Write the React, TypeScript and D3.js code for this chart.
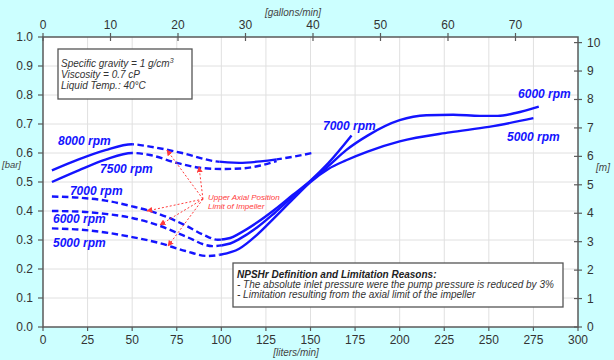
import React from "react";
import * as d3 from "d3";

// ---- data (x in liters/min, y in bar) ----
const curve8000X = [5, 20, 35, 50, 60, 78, 97, 110, 122, 131, 141, 151];
const curve8000Y = [0.54, 0.578, 0.61, 0.63, 0.622, 0.6, 0.571, 0.566, 0.571, 0.578, 0.588, 0.6];
const curve8000Dashed = [[50, 99], [131, 160]];

const curve7500X = [5, 20, 35, 50, 60, 75, 88, 100, 112, 122, 131];
const curve7500Y = [0.5, 0.54, 0.577, 0.6, 0.593, 0.566, 0.549, 0.545, 0.547, 0.557, 0.572];
const curve7500Dashed = [[50, 140]];

const curve7000X = [5, 20, 35, 50, 60, 70, 80, 90, 98, 105, 110, 120, 130, 140, 150, 160, 173];
const curve7000Y = [0.45, 0.446, 0.436, 0.416, 0.4, 0.378, 0.35, 0.318, 0.301, 0.307, 0.322, 0.36, 0.405, 0.455, 0.505, 0.565, 0.66];
const curve7000Dashed = [[0, 100]];

const curve6000X = [5, 20, 35, 50, 65, 80, 95, 105, 110, 120, 130, 140, 150, 160, 170, 182, 200, 215, 230, 245, 255, 265, 278];
const curve6000Y = [0.4, 0.398, 0.39, 0.376, 0.35, 0.312, 0.279, 0.288, 0.303, 0.343, 0.394, 0.449, 0.503, 0.555, 0.61, 0.66, 0.713, 0.73, 0.732, 0.728, 0.728, 0.738, 0.76];
const curve6000Dashed = [[0, 100]];

const curve5000X = [5, 20, 35, 50, 65, 80, 92, 100, 110, 120, 130, 140, 150, 160, 170, 182, 200, 228, 250, 275];
const curve5000Y = [0.34, 0.336, 0.326, 0.31, 0.29, 0.262, 0.245, 0.25, 0.27, 0.318, 0.378, 0.44, 0.5, 0.545, 0.575, 0.605, 0.64, 0.671, 0.69, 0.72];
const curve5000Dashed = [[0, 99]];

const speedLabels = ["8000 rpm", "7500 rpm", "7000 rpm", "6000 rpm", "5000 rpm", "7000 rpm", "6000 rpm", "5000 rpm"];
const speedLabelX = [8.4, 32, 15.1, 5.6, 5.6, 157, 266.4, 260.2];
const speedLabelY = [0.628, 0.531, 0.455, 0.36, 0.277, 0.679, 0.79, 0.641];

const limitSource = [89.7, 0.441];
const limitTargetX = [69.5, 87.5, 58.3, 65.6, 70.1];
const limitTargetY = [0.61, 0.552, 0.4, 0.352, 0.279];

const xTicksLiters = [0, 25, 50, 75, 100, 125, 150, 175, 200, 225, 250, 275, 300];
const yTicksBar = [0, 0.1, 0.2, 0.3, 0.4, 0.5, 0.6, 0.7, 0.8, 0.9, 1.0];
const xTicksGallons = [0, 10, 20, 30, 40, 50, 60, 70];
const yTicksMeters = [0, 1, 2, 3, 4, 5, 6, 7, 8, 9, 10];

const infoLines = ["Specific gravity = 1 g/cm", "Viscosity = 0.7 cP", "Liquid Temp.: 40°C"];
const noteTitle = "NPSHr Definition and Limitation Reasons:";
const noteLines = [
  "- The absolute inlet pressure were the pump pressure is reduced by 3%",
  "- Limitation resulting from the axial limit of the impeller",
];

const LITERS_PER_GALLON = 3.785;
const METERS_PER_BAR = 10.197;

const W = 614;
const H = 360;
const L = 43, R = 578, T = 37, B = 327;
const BLUE = "#1414ff";
const RED = "#ff3c3c";
const FONT = "'Liberation Sans', Arial, sans-serif";

const x = d3.scaleLinear().domain([0, 300]).range([L, R]);
const y = d3.scaleLinear().domain([0, 1]).range([B, T]);
const xG = d3.scaleLinear().domain([0, 300 / LITERS_PER_GALLON]).range([L, R]);
const yM = d3.scaleLinear().domain([0, 1 * METERS_PER_BAR]).range([B, T]);

const line = d3
  .line<[number, number]>()
  .x((d) => x(d[0]))
  .y((d) => y(d[1]))
  .curve(d3.curveMonotoneX);

type Curve = { id: string; xs: number[]; ys: number[]; dashed: number[][] };
const curves: Curve[] = [
  { id: "c8000", xs: curve8000X, ys: curve8000Y, dashed: curve8000Dashed },
  { id: "c7500", xs: curve7500X, ys: curve7500Y, dashed: curve7500Dashed },
  { id: "c7000", xs: curve7000X, ys: curve7000Y, dashed: curve7000Dashed },
  { id: "c6000", xs: curve6000X, ys: curve6000Y, dashed: curve6000Dashed },
  { id: "c5000", xs: curve5000X, ys: curve5000Y, dashed: curve5000Dashed },
];

function solidRanges(dashed: number[][]): number[][] {
  const out: number[][] = [];
  let start = -10;
  const sorted = [...dashed].sort((a, b) => a[0] - b[0]);
  for (const [a, b] of sorted) {
    if (a > start) out.push([start, a]);
    start = b;
  }
  out.push([start, 400]);
  return out;
}

export default function App() {
  return (
    <svg
      width={W}
      height={H}
      style={{ position: "absolute", left: 0, top: 0, fontFamily: FONT }}
    >
      <defs>
        {curves.map((c) => (
          <React.Fragment key={c.id}>
            <clipPath id={`${c.id}-dash`}>
              {c.dashed.map(([a, b], i) => (
                <rect key={i} x={x(a)} y={0} width={x(b) - x(a)} height={H} />
              ))}
            </clipPath>
            <clipPath id={`${c.id}-solid`}>
              {solidRanges(c.dashed).map(([a, b], i) => (
                <rect key={i} x={x(a)} y={0} width={x(b) - x(a)} height={H} />
              ))}
            </clipPath>
          </React.Fragment>
        ))}
        <marker
          id="arrowRed"
          viewBox="0 0 10 10"
          refX={9}
          refY={5}
          markerWidth={6}
          markerHeight={6}
          orient="auto"
          markerUnits="userSpaceOnUse"
        >
          <path d="M0,0 L10,5 L0,10 z" fill={RED} />
        </marker>
      </defs>
      <rect x={0} y={0} width={W} height={H} fill="#ccffff" />
      <rect x={L} y={T} width={R - L} height={B - T} fill="#ffffff" />

      {/* grid */}
      <g stroke="#e0e0e0" strokeWidth={1}>
        {xTicksLiters.slice(1, -1).map((t) => (
          <line key={`gx${t}`} x1={x(t)} x2={x(t)} y1={T} y2={B} />
        ))}
        {yTicksBar.slice(1, -1).map((t) => (
          <line key={`gy${t}`} x1={L} x2={R} y1={y(t)} y2={y(t)} />
        ))}
      </g>

      {/* info box */}
      <rect x={58} y={49} width={134} height={50} fill="#fff" stroke="#555" strokeWidth={1.3} />
      <g fontSize={10} fontStyle="italic" fill="#333">
        <text x={61} y={67}>
          {infoLines[0]}
          <tspan fontSize={7} dy={-4}>3</tspan>
        </text>
        <text x={61} y={78}>{infoLines[1]}</text>
        <text x={61} y={89}>{infoLines[2]}</text>
      </g>

      {/* note box */}
      <rect x={233} y={263} width={330} height={44} fill="#fff" stroke="#555" strokeWidth={1.3} />
      <g fontSize={10} fontStyle="italic" fill="#333">
        <text x={237} y={278} fontWeight="bold" fill="#222">{noteTitle}</text>
        <text x={237} y={288}>{noteLines[0]}</text>
        <text x={237} y={298}>{noteLines[1]}</text>
      </g>

      {/* curves */}
      {curves.map((c) => {
        const pts = c.xs.map((v, i) => [v, c.ys[i]] as [number, number]);
        const d = line(pts) || "";
        return (
          <g key={c.id} fill="none" stroke={BLUE} strokeWidth={2.4}>
            <path d={d} clipPath={`url(#${c.id}-solid)`} />
            <path d={d} clipPath={`url(#${c.id}-dash)`} strokeDasharray="6.5,3.5" />
          </g>
        );
      })}

      {/* speed labels */}
      <g fontSize={12} fontWeight="bold" fontStyle="italic" fill={BLUE}>
        {speedLabels.map((s, i) => (
          <text key={i} x={x(speedLabelX[i])} y={y(speedLabelY[i])}>{s}</text>
        ))}
      </g>

      {/* red annotation */}
      <g stroke={RED} strokeWidth={1} strokeDasharray="2,2" fill="none">
        {limitTargetX.map((tx, i) => (
          <line
            key={i}
            x1={x(limitSource[0])}
            y1={y(limitSource[1])}
            x2={x(tx)}
            y2={y(limitTargetY[i])}
            markerEnd="url(#arrowRed)"
          />
        ))}
      </g>
      <g fontSize={8} fontStyle="italic" fill={RED}>
        <text x={x(limitSource[0]) + 5} y={y(limitSource[1]) + 0.5}>Upper Axial Position</text>
        <text x={x(limitSource[0]) + 5} y={y(limitSource[1]) + 9.5}>Limit of Impeller</text>
      </g>

      {/* frame */}
      <rect x={L} y={T} width={R - L} height={B - T} fill="none" stroke="#5a5a5a" strokeWidth={1.5} />

      {/* bottom axis */}
      <g fontSize={12} fill="#333" textAnchor="middle">
        {xTicksLiters.map((t) => (
          <g key={`bx${t}`}>
            <line x1={x(t)} x2={x(t)} y1={B} y2={B + 4} stroke="#5a5a5a" strokeWidth={1.2} />
            <text x={x(t)} y={B + 17}>{t}</text>
          </g>
        ))}
      </g>
      <text x={296} y={356} fontSize={10} fontStyle="italic" fill="#444" textAnchor="middle">[liters/min]</text>

      {/* left axis */}
      <g fontSize={12} fill="#333" textAnchor="end">
        {yTicksBar.map((t) => (
          <g key={`ly${t}`}>
            <line x1={L - 5} x2={L} y1={y(t)} y2={y(t)} stroke="#5a5a5a" strokeWidth={1.2} />
            <text x={L - 10} y={y(t) + 4}>{t.toFixed(1)}</text>
          </g>
        ))}
      </g>
      <text x={2} y={168} fontSize={9.5} fontStyle="italic" fill="#444">[bar]</text>

      {/* top axis */}
      <g fontSize={12} fill="#333" textAnchor="middle">
        {xTicksGallons.map((t) => (
          <g key={`tx${t}`}>
            <line x1={xG(t)} x2={xG(t)} y1={T - 4} y2={T + 4} stroke="#5a5a5a" strokeWidth={1.2} />
            <text x={xG(t)} y={T - 8}>{t}</text>
          </g>
        ))}
      </g>
      <text x={293} y={16} fontSize={10} fontStyle="italic" fill="#444" textAnchor="middle">[gallons/min]</text>

      {/* right axis */}
      <g fontSize={12} fill="#333" textAnchor="start">
        {yTicksMeters.map((t) => (
          <g key={`ry${t}`}>
            <line x1={R - 4} x2={R + 4} y1={yM(t)} y2={yM(t)} stroke="#5a5a5a" strokeWidth={1.2} />
            <text x={R + 9} y={yM(t) + 4}>{t}</text>
          </g>
        ))}
      </g>
      <text x={603} y={171} fontSize={10} fontStyle="italic" fill="#444" textAnchor="middle">[m]</text>
    </svg>
  );
}
